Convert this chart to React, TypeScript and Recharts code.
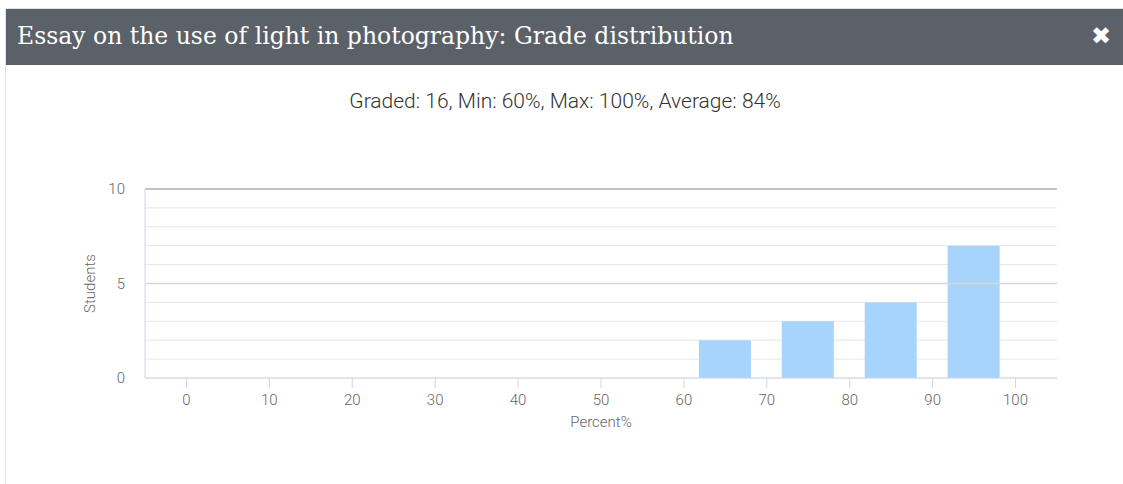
import React from "react";
import {
  BarChart,
  Bar,
  XAxis,
  YAxis,
  CartesianGrid,
  ReferenceLine,
} from "recharts";

const TITLE = "Essay on the use of light in photography: Grade distribution";
const SUBTITLE = "Graded: 16, Min: 60%, Max: 100%, Average: 84%";

// bin centres (each bin is 10 percent wide) and students per bin
const BIN_CENTERS = [5, 15, 25, 35, 45, 55, 65, 75, 85, 95];
const STUDENTS = [0, 0, 0, 0, 0, 0, 2, 3, 4, 7];

const X_TICKS = [0, 10, 20, 30, 40, 50, 60, 70, 80, 90, 100];
const Y_TICKS = [0, 1, 2, 3, 4, 5, 6, 7, 8, 9, 10];
const Y_LABELLED = [0, 5, 10];

const data = BIN_CENTERS.map((x, i) => ({ x, students: STUDENTS[i] }));

const TICK_STYLE = { fill: "#666", fontSize: 15, fontFamily: "Roboto", fontWeight: 300 };
const AXIS_COLOR = "#ccd6eb";

const YTick = ({ x, y, payload }: any) => {
  if (!Y_LABELLED.includes(payload.value)) return null;
  return (
    <text x={x} y={y} dy={5} textAnchor="end" {...TICK_STYLE}>
      {payload.value}
    </text>
  );
};

export default function App() {
  return (
    <div
      style={{
        position: "absolute",
        left: 0,
        top: 0,
        width: 1123,
        height: 484,
        background: "#fff",
        overflow: "hidden",
      }}
    >
      <div
        style={{
          position: "absolute",
          left: 5,
          top: 8,
          width: 1118,
          height: 476,
          borderLeft: "1px solid #e2e2e2",
          borderTop: "1px solid #e2e2e2",
        }}
      />
      <div
        style={{
          position: "absolute",
          left: 6,
          top: 9,
          width: 1117,
          height: 56,
          background: "#5b6168",
          color: "#fff",
        }}
      >
        <div
          style={{
            position: "absolute",
            left: 11,
            top: 12,
            fontFamily: "DejaVu Serif",
            fontSize: 23.5,
            lineHeight: "30px",
            whiteSpace: "nowrap",
          }}
        >
          {TITLE}
        </div>
        <div
          style={{
            position: "absolute",
            right: 12,
            top: 12,
            fontFamily: "DejaVu Sans",
            fontWeight: "bold",
            fontSize: 24,
            lineHeight: "30px",
          }}
        >
          ✖
        </div>
      </div>
      <div
        style={{
          position: "absolute",
          left: 0,
          width: 1130,
          top: 88,
          textAlign: "center",
          fontFamily: "Roboto",
          fontWeight: 300,
          fontSize: 21,
          lineHeight: "26px",
          color: "#333",
        }}
      >
        {SUBTITLE}
      </div>
      <div style={{ position: "absolute", left: 0, top: 0 }}>
        <BarChart
          width={1123}
          height={484}
          data={data}
          margin={{ top: 189, right: 66, bottom: 76, left: 85 }}
        >
          <CartesianGrid vertical={false} stroke="#e6e6e6" />
          <XAxis
            dataKey="x"
            type="number"
            domain={[-5, 105]}
            ticks={X_TICKS}
            interval={0}
            height={30}
            tickSize={10}
            tickMargin={6}
            tick={TICK_STYLE}
            stroke={AXIS_COLOR}
            axisLine={{ stroke: AXIS_COLOR }}
            tickLine={{ stroke: AXIS_COLOR }}
            label={{
              value: "Percent%",
              position: "insideBottom",
              offset: -19,
              fill: "#666",
              fontSize: 15,
              fontWeight: 300,
              fontFamily: "Roboto",
            }}
          />
          <YAxis
            type="number"
            domain={[0, 10]}
            ticks={Y_TICKS}
            interval={0}
            width={60}
            tickSize={0}
            tickMargin={20}
            tick={<YTick />}
            axisLine={{ stroke: AXIS_COLOR }}
            tickLine={false}
            label={{
              value: "Students",
              angle: -90,
              position: "insideLeft",
              offset: 5,
              fill: "#666",
              fontSize: 15,
              fontWeight: 300,
              fontFamily: "Roboto",
              style: { textAnchor: "middle" },
            }}
          />
          <ReferenceLine y={5} stroke="#d6d6d6" strokeWidth={1.5} />
          <ReferenceLine y={10} stroke="#c4c4c4" strokeWidth={2} />
          <Bar
            dataKey="students"
            fill="#a6d4fa"
            barSize={52}
            isAnimationActive={false}
          />
        </BarChart>
      </div>
    </div>
  );
}
